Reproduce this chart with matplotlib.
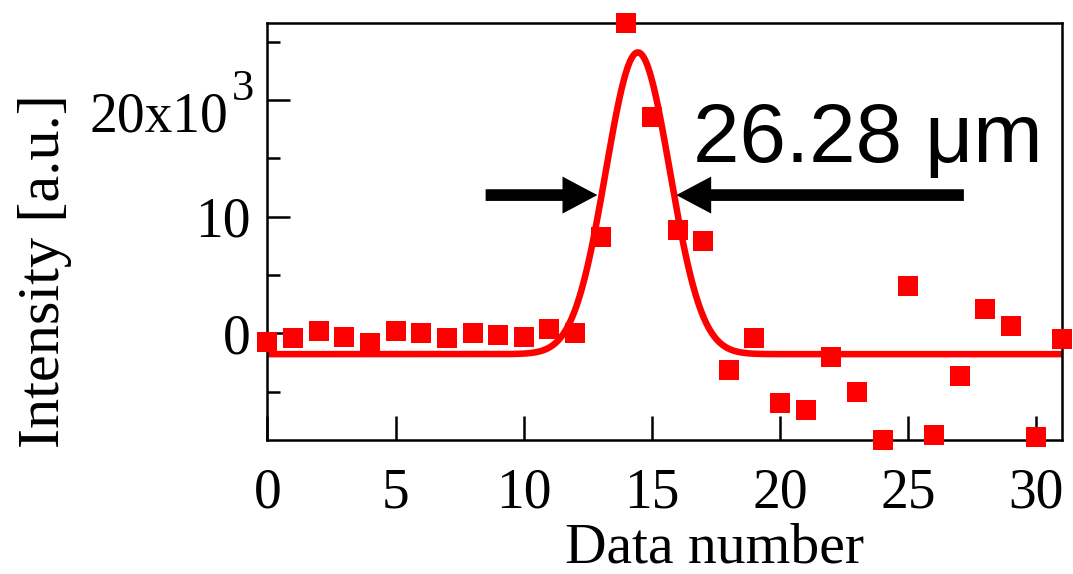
import numpy as np
import matplotlib
matplotlib.use("Agg")
import matplotlib.pyplot as plt

# Measured intensity per data number (units of 10^3 a.u.)
data_number = np.arange(0, 32)
intensity = [-0.72, -0.43, 0.20, -0.35, -0.80, 0.20, 0.00, -0.43, 0.00, -0.17,
             -0.29, 0.34, 0.06, 8.23, 26.60, 18.56, 8.85, 7.94, -3.14, -0.43,
             -6.00, -6.57, -2.06, -5.06, -9.14, 4.05, -8.71, -3.66, 2.06, 0.65,
             -8.91, -0.51]

# Gaussian fit parameters (units of 10^3 a.u. / data number)
fit_offset = -1.78
fit_amplitude = 25.86
fit_center = 14.45
fit_sigma = 1.25

# FWHM annotation
fwhm_label = "26.28 \u03bcm"
arrow_y = 11.85
left_arrow = (8.51, 12.87)
right_arrow = (27.17, 15.95)

xticks = [0, 5, 10, 15, 20, 25, 30]
yticks = [0, 10, 20]
yticklabels = ["0", "10", ""]
yminor = [-5, 5, 15, 25]
top_label_mantissa = "20x10"
top_label_exponent = "3"

serif = "Liberation Serif"
sans = "Liberation Sans"
red = "#ff0000"

fig = plt.figure(figsize=(10.73, 5.74), dpi=100)
ax = fig.add_axes([0.2493, 0.2334, 0.7405, 0.7270])

xfit = np.linspace(0, 31, 600)
yfit = fit_offset + fit_amplitude * np.exp(-(xfit - fit_center) ** 2 / (2 * fit_sigma ** 2))
ax.plot(xfit, yfit, color=red, lw=4.7, zorder=2, solid_capstyle="butt")
ax.plot(data_number, intensity, "s", color=red, markersize=15, mew=0,
        clip_on=False, zorder=4)

# Horizontal arrows marking the full width at half maximum
for tail, tip in (left_arrow, right_arrow):
    ax.arrow(tail, arrow_y, tip - tail, 0, width=1.0, head_width=3.17,
             head_length=1.36, length_includes_head=True, color="black",
             lw=0, zorder=3)

ax.text(16.59, 14.68, fwhm_label, family=sans, fontsize=60, ha="left",
        va="baseline", color="black")

ax.set_xlim(0, 31)
ax.set_ylim(-9.14, 26.62)
ax.set_xticks(xticks)
ax.set_xticklabels([str(t) for t in xticks], family=serif, fontsize=40)
ax.set_yticks(yticks)
ax.set_yticklabels(yticklabels, family=serif, fontsize=40)
ax.set_yticks(yminor, minor=True)

# Top y tick label with a raised exponent, centred as a whole on its tick
ytrans = ax.get_yaxis_transform()
ax.text(-0.0497, 17.27, top_label_mantissa, transform=ytrans, family=serif,
        fontsize=40, ha="right", va="baseline", clip_on=False)
ax.text(-0.017, 19.99, top_label_exponent, transform=ytrans, family=serif,
        fontsize=32, ha="right", va="baseline", clip_on=False)

ax.tick_params(axis="both", which="both", top=False, right=False)
ax.tick_params(axis="x", which="major", direction="in", length=17, width=1.8,
               pad=20)
ax.tick_params(axis="y", which="major", direction="in", length=16.5, width=1.8,
               pad=12)
ax.tick_params(axis="y", which="minor", direction="in", length=9, width=1.8)

for sp in ax.spines.values():
    sp.set_linewidth(1.8)

ax.set_xlabel("Data number", family=serif, fontsize=41.5)
ax.xaxis.set_label_coords(0.563, -0.197)
ax.set_ylabel("Intensity [a.u.]", family=serif, fontsize=43.5)
ax.yaxis.set_label_coords(-0.246, 0.404)

fig.savefig("out.png", dpi=100)
